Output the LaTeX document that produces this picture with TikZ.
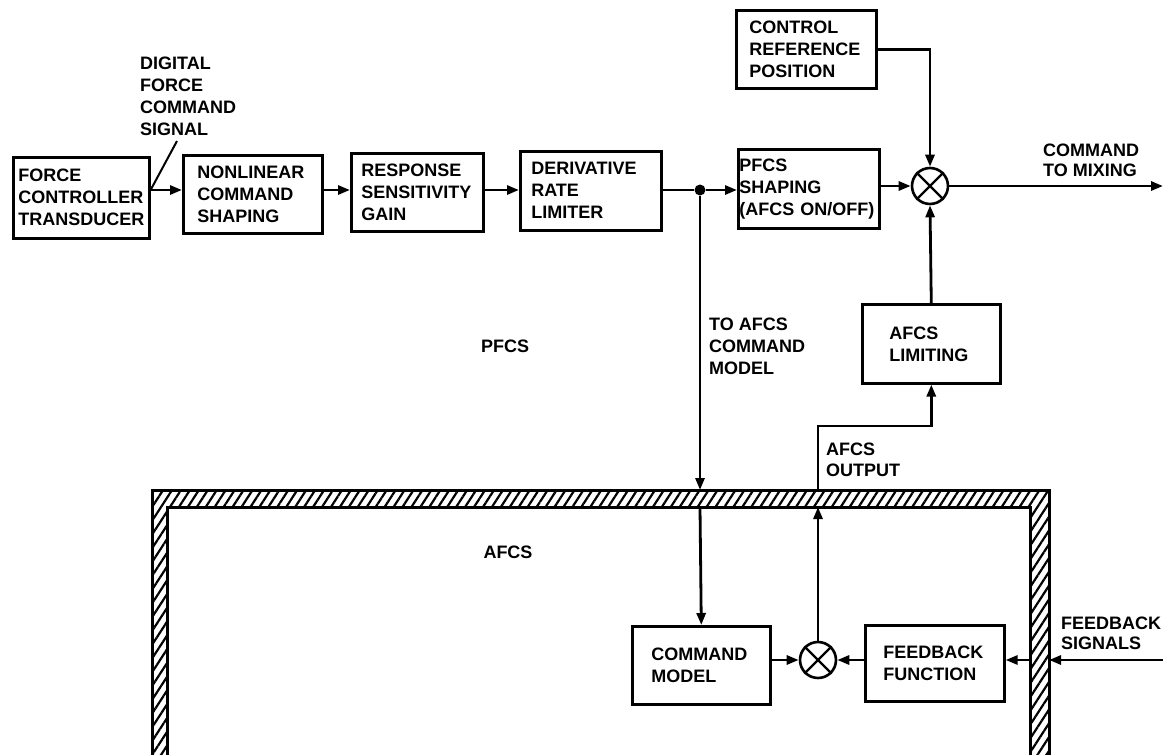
\documentclass[tikz,border=0pt]{standalone}
\usepackage{fontspec}
\setmainfont{Liberation Sans}
\usetikzlibrary{arrows.meta,patterns.meta,calc}
\begin{document}
\begin{tikzpicture}[x=1pt,y=-1pt,
  font=\bfseries\fontsize{18}{22}\selectfont,
  box/.style={draw, line width=2.6pt, align=left, anchor=north west, inner ysep=0pt},
  conn/.style={line width=2.8pt},
  arr/.style={conn, -{Triangle[length=12pt,width=9pt]}},
  sum/.style={draw, circle, line width=2.6pt, minimum size=36pt, inner sep=0pt},
  lbl/.style={align=left, anchor=west, inner sep=0pt},
  wall/.style={line width=3pt}]
\useasboundingbox (0,0) rectangle (1163,755);

% top row boxes
\node[box, minimum width=136pt, minimum height=81pt, inner xsep=5pt, text width=126pt] (B1) at (12,156) {FORCE\\CONTROLLER\\TRANSDUCER};
\node[box, minimum width=139pt, minimum height=78pt, inner xsep=14pt, text width=111pt] (B2) at (182,154) {NONLINEAR\\COMMAND\\SHAPING};
\node[box, minimum width=132pt, minimum height=78pt, inner xsep=10pt, text width=112pt] (B3) at (350,152) {RESPONSE\\SENSITIVITY\\GAIN};
\node[box, minimum width=141pt, minimum height=79pt, inner xsep=11pt, text width=119pt] (B4) at (519,150) {DERIVATIVE\\RATE\\LIMITER};
\node[box, minimum width=141pt, minimum height=79pt, inner xsep=1pt, text width=139pt] (B5) at (737,148) {PFCS\\SHAPING\\(AFCS~ON/OFF)};
\node[box, minimum width=140pt, minimum height=78pt, inner xsep=13pt, text width=114pt] (CRP) at (735,9) {CONTROL\\REFERENCE\\POSITION};
\node[box, minimum width=138pt, minimum height=79pt, inner xsep=27pt, text width=84pt] (LIM) at (861,303) {AFCS\\LIMITING};
\node[box, minimum width=138pt, minimum height=78pt, inner xsep=19pt, text width=100pt] (CM) at (631,625) {COMMAND\\MODEL};
\node[box, minimum width=139pt, minimum height=76pt, inner xsep=18pt, text width=103pt] (FB) at (864,624) {FEEDBACK\\FUNCTION};

% junctions
\node[circle, fill, inner sep=0pt, minimum size=11pt] (dot) at (700,190) {};
\node[sum] (S1) at (930,186) {};
\draw[line width=2.4pt] (S1.north east) -- (S1.south west) (S1.north west) -- (S1.south east);
\node[sum] (S2) at (818,660) {};
\draw[line width=2.4pt] (S2.north east) -- (S2.south west) (S2.north west) -- (S2.south east);

% AFCS frame (hatched wall)
\fill[pattern={Lines[angle=57,distance=7.5pt,line width=2.2pt]}]
  (152,756) -- (152,490) -- (1049,490) -- (1049,756) -- (1030,756) -- (1030,507) -- (167,507) -- (167,756) -- cycle;
\draw[wall] (152,757) -- (152,490) -- (1049,490) -- (1049,757);
\draw[wall] (167,757) -- (167,507) -- (1030,507) -- (1030,757);
\coordinate (fo) at (0,490);
\coordinate (fi) at (0,507);
\coordinate (wo) at (1049,0);
\coordinate (wi) at (1030,0);

% labels
\node[lbl] (dig) at (140,96) {DIGITAL\\FORCE\\COMMAND\\SIGNAL};
\node[lbl] (toafcs) at (709,346) {TO AFCS\\COMMAND\\MODEL};
\node[lbl, font=\bfseries\fontsize{18}{21}\selectfont] (aout) at (826,460) {AFCS\\OUTPUT};
\node[lbl, font=\bfseries\fontsize{18}{20}\selectfont] (cmix) at (1043,160) {COMMAND\\TO MIXING};
\node[lbl, font=\bfseries\fontsize{18}{20}\selectfont] (fbs) at (1061,633) {FEEDBACK\\SIGNALS};
\node (pfcs) at (505,346) {PFCS};
\node (afcs) at (508,552) {AFCS};

% connectors
\coordinate (lead) at (177,141);
\draw[line width=2pt] (lead) -- (B1.east|-dot);
\draw[arr] (B1.east|-dot) -- (B2.west|-dot);
\draw[arr] (B2.east|-dot) -- (B3.west|-dot);
\draw[arr] (B3.east|-dot) -- (B4.west|-dot);
\draw[conn] (B4.east|-dot) -- (dot);
\draw[arr] (dot) -- (B5.west|-dot);
\draw[arr] (B5.east|-S1) -- (S1.west);
\draw[arr] (CRP.east) -| (S1.north);
\coordinate (out) at (1163,186);
\draw[arr] (S1.east) -- (out);
\draw[arr] (LIM.north) -- (S1.south);
\draw[arr] (dot) -- (dot|-fo);
\draw[arr] (dot|-fi) -- (CM.north);
\draw[arr] (S2.north) -- (S2|-fi);
\coordinate (turn) at (818,426);
\draw[arr] (S2|-fo) -- (turn) -| (LIM.south);
\draw[arr] (CM.east|-S2) -- (S2.west);
\draw[arr] (FB.west|-S2) -- (S2.east);
\coordinate (fbin) at (1163,660);
\draw[arr] (fbin) -- (fbin-|wo);
\draw[arr] (fbin-|wi) -- (FB.east|-S2);
\end{tikzpicture}
\end{document}
